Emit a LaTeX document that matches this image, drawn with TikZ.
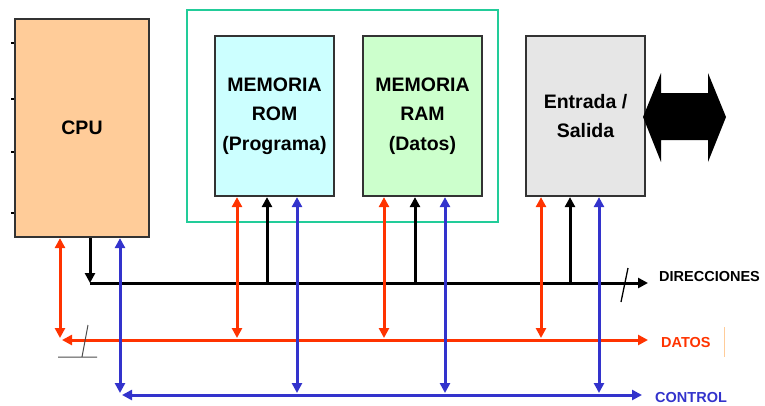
\documentclass[tikz,border=0pt]{standalone}
\usepackage{fontspec}
\setmainfont{Liberation Sans}
\usepackage{tikz}
\usetikzlibrary{shapes,arrows.meta,positioning}

\definecolor{cpuorange}{HTML}{FFCC99}
\definecolor{romcyan}{HTML}{CCFFFF}
\definecolor{ramgreen}{HTML}{CCFFCC}
\definecolor{iogray}{HTML}{E6E6E6}
\definecolor{boxgray}{HTML}{333333}
\definecolor{framegreen}{HTML}{22CC99}
\definecolor{datred}{HTML}{FF3300}
\definecolor{ctlblue}{HTML}{3333CC}
\definecolor{markorange}{HTML}{FFCC99}

\begin{document}
\begin{tikzpicture}[x=1pt,y=-1pt,>={Triangle[length=10pt,width=10pt]},
	box/.style={draw=boxgray, line width=2.2pt, minimum width=119pt, minimum height=160pt,
		align=center, font=\fontsize{19.5}{29.5}\selectfont\bfseries},
	busname/.style={anchor=west, inner sep=0pt, font=\fontsize{14.5}{17}\selectfont\bfseries},
	bus/.style={line width=3pt}]
				\useasboundingbox (0,0) rectangle (765,405);
				% blocks
				\node [draw=framegreen, line width=2.2pt, minimum width=311pt, minimum height=212pt] (mem) at (342.5,116) {};
				\node [box, fill=cpuorange, minimum width=134pt, minimum height=218pt] (cpu) at (82,128) {CPU};
				\node [box, fill=romcyan] (rom) at (274.5,116) {MEMORIA\\ROM\\(Programa)};
				\node [box, fill=ramgreen] (ram) at (422.5,116) {MEMORIA\\RAM\\(Datos)};
				\node [box, fill=iogray] (io) at (585.5,116) {Entrada /\\Salida};
				\foreach \ty in {43,99,152,213}
					\draw [line width=1.5pt] (cpu.west |- 0,\ty) -- ++(-3,0);
				% I/O arrow
				\fill (643,117) -- (661,73) -- (661,93) -- (708,93) -- (708,73) -- (726,117)
					-- (708,162) -- (708,140) -- (661,140) -- (661,162) -- cycle;
				% buses
				\coordinate (dirL) at (90,283);		\coordinate (dirR) at (648,283);
				\coordinate (datL) at (60,340);		\coordinate (datR) at (648,340);
				\coordinate (ctlL) at (120,395);	\coordinate (ctlR) at (642,395);
				\draw [->] [bus] (cpu.south -| dirL) -- (dirL);
				\draw [->] [bus] (dirL) -- (dirR);
				\draw [<->] [bus, color=datred] (cpu.south -| datL) -- ([yshift=2pt]datL);
				\draw [<->] [bus, color=datred] ([xshift=2pt]datL) -- (datR);
				\draw [<->] [bus, color=ctlblue] (cpu.south -| ctlL) -- ([yshift=2pt]ctlL);
				\draw [<->] [bus, color=ctlblue] ([xshift=2pt]ctlL) -- (ctlR);
				\foreach \n/\xd/\xa/\xc in {rom/237/267/297,ram/384/415/445,io/541/570/599} {
					\draw [->] [bus] (\xa,0 |- dirL) -- (\xa,0 |- \n.south);
					\draw [<->] [bus, color=datred] (\xd,0 |- \n.south) -- ([yshift=2pt]\xd,0 |- datL);
					\draw [<->] [bus, color=ctlblue] (\xc,0 |- \n.south) -- ([yshift=2pt]\xc,0 |- ctlL);
				}
				% bus marks
				\draw [line width=1.3pt] (628,268) -- (621,302);
				\draw [line width=1pt, color=gray!60!black] (88,325) -- (82,357) (58,357) -- (97,357);
				\draw [line width=1pt, color=markorange] (724,327) -- (724,357);
				% labels
				\node [busname, right=11pt of dirR, yshift=6pt] (dirlab) {DIRECCIONES};
				\node [busname, right=13pt of datR, yshift=-2pt, text=datred] (datlab) {DATOS};
				\node [busname, right=13pt of ctlR, yshift=-2pt, text=ctlblue] (ctllab) {CONTROL};
\end{tikzpicture}
\end{document}
